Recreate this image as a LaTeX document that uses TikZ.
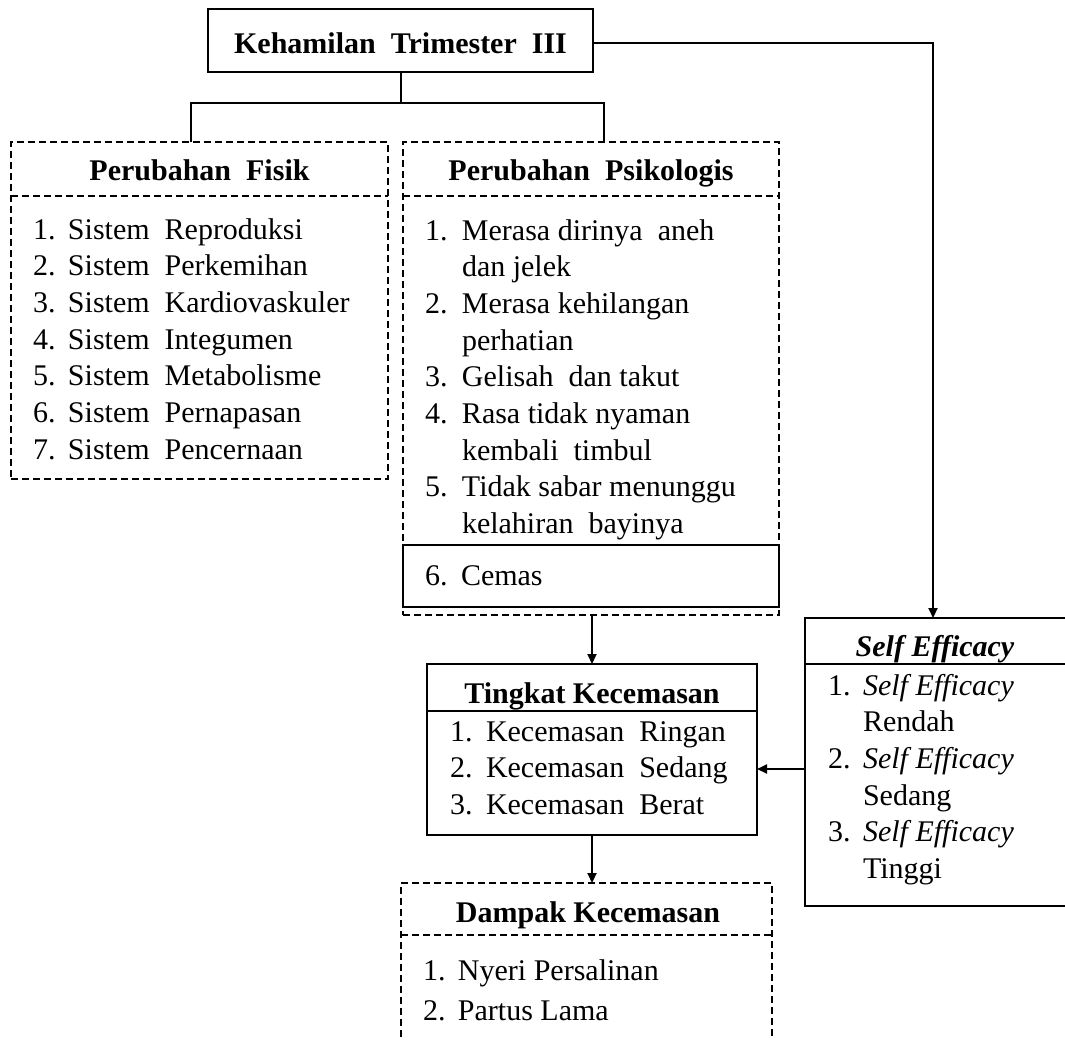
\documentclass[tikz,border=0pt]{standalone}
\usepackage{fontspec}
\setmainfont{Liberation Serif}
\usetikzlibrary{arrows.meta}
\newcommand\numb[2][35pt]{\makebox[#1][l]{#2}}
\begin{document}
\begin{tikzpicture}[x=1pt,y=-1pt,
  every node/.style={inner sep=0pt, outer sep=0pt},
  solidbox/.style={draw, line width=2.1pt, rectangle},
  dashbox/.style={draw, line width=2pt, dash pattern=on 7pt off 4pt, rectangle},
  dashsep/.style={line width=1.6pt, dash pattern=on 7pt off 4pt},
  solidsep/.style={line width=2pt},
  ttl/.style={font=\fontsize{30}{36}\selectfont\bfseries, anchor=base},
  itm/.style={font=\fontsize{30}{36}\selectfont, anchor=base west},
  conn/.style={line width=2pt},
  arr/.style={conn, -{Triangle[length=10pt,width=9pt]}}
]
\useasboundingbox (0,0) rectangle (1065,1039);

% boxes
\node[solidbox, minimum width=385pt, minimum height=63pt] (top) at (400.5,40.5) {};
\node[dashbox, minimum width=377pt, minimum height=337pt] (fisik) at (199.5,310.5) {};
\node[dashbox, minimum width=376pt, minimum height=473pt] (psiko) at (591,378.5) {};
\node[solidbox, minimum width=376pt, minimum height=62pt] (cemas) at (591,576) {};
\node[solidbox, minimum width=330pt, minimum height=171pt] (tingkat) at (592,749.5) {};
\node[solidbox, minimum width=270pt, minimum height=288pt] (self) at (940,762) {};
\node[dashbox, minimum width=371pt, minimum height=167pt] (dampak) at (586.5,966.5) {};

% separators
\draw[dashsep] (fisik.west |- 0,196) -- (fisik.east |- 0,196);
\draw[dashsep] (psiko.west |- 0,196) -- (psiko.east |- 0,196);
\draw[solidsep] (tingkat.west |- 0,711) -- (tingkat.east |- 0,711);
\draw[solidsep] (self.west |- 0,664) -- (self.east |- 0,664);
\draw[dashsep] (dampak.west |- 0,935) -- (dampak.east |- 0,935);

% titles
\node[ttl] (ttop) at (400.5,53) {Kehamilan~ Trimester~ III};
\node[ttl] (tfisik) at (199.5,180) {Perubahan~ Fisik};
\node[ttl] (tpsiko) at (591,180) {Perubahan~ Psikologis};
\node[ttl] (ttingkat) at (592,703) {Tingkat Kecemasan};
\node[ttl] (tself) at (935,656) {\itshape Self Efficacy};
\node[ttl] (tdampak) at (588,922) {Dampak Kecemasan};

% Perubahan Fisik items
\node[itm] (f1) at (33,239.0) {\numb{1.}Sistem~ Reproduksi};
\node[itm] (f2) at (33,275.7) {\numb{2.}Sistem~ Perkemihan};
\node[itm] (f3) at (33,312.4) {\numb{3.}Sistem~ Kardiovaskuler};
\node[itm] (f4) at (33,349.1) {\numb{4.}Sistem~ Integumen};
\node[itm] (f5) at (33,385.8) {\numb{5.}Sistem~ Metabolisme};
\node[itm] (f6) at (33,422.5) {\numb{6.}Sistem~ Pernapasan};
\node[itm] (f7) at (33,459.2) {\numb{7.}Sistem~ Pencernaan};

% Perubahan Psikologis items
\node[itm] (p1) at (425,240.0) {\numb[37pt]{1.}Merasa dirinya~ aneh};
\node[itm] (p1b) at (425,276.7) {\numb[37pt]{}dan jelek};
\node[itm] (p2) at (425,313.4) {\numb[37pt]{2.}Merasa kehilangan};
\node[itm] (p2b) at (425,350.1) {\numb[37pt]{}perhatian};
\node[itm] (p3) at (425,386.8) {\numb[37pt]{3.}Gelisah~ dan takut};
\node[itm] (p4) at (425,423.5) {\numb[37pt]{4.}Rasa tidak nyaman};
\node[itm] (p4b) at (425,460.2) {\numb[37pt]{}kembali~ timbul};
\node[itm] (p5) at (425,496.9) {\numb[37pt]{5.}Tidak sabar menunggu};
\node[itm] (p5b) at (425,533.6) {\numb[37pt]{}kelahiran~ bayinya};
\node[itm] (p6) at (425,585) {\numb[36pt]{6.}Cemas};

% Tingkat Kecemasan items
\node[itm] (k1) at (450,741.0) {\numb[36pt]{1.}Kecemasan~ Ringan};
\node[itm] (k2) at (450,777.7) {\numb[36pt]{2.}Kecemasan~ Sedang};
\node[itm] (k3) at (450,814.4) {\numb[36pt]{3.}Kecemasan~ Berat};

% Self Efficacy items
\node[itm] (s1) at (828,695.0) {\numb{1.}\textit{Self Efficacy}};
\node[itm] (s1b) at (828,731.7) {\numb{}Rendah};
\node[itm] (s2) at (828,768.4) {\numb{2.}\textit{Self Efficacy}};
\node[itm] (s2b) at (828,805.1) {\numb{}Sedang};
\node[itm] (s3) at (828,841.8) {\numb{3.}\textit{Self Efficacy}};
\node[itm] (s3b) at (828,878.5) {\numb{}Tinggi};

% Dampak Kecemasan items
\node[itm] (d1) at (423,980) {\numb{1.}Nyeri Persalinan};
\node[itm] (d2) at (423,1020) {\numb{2.}Partus Lama};

% connectors
\coordinate (bl) at (191,103);
\coordinate (brr) at (604,103);
\coordinate (rt) at (933,43);
\coordinate (sa) at (805,769);
\draw[conn] (top.south) -- (top.south |- bl);
\draw[conn] (fisik.north -| bl) -- (bl) -- (brr) -- (psiko.north -| brr);
\draw[arr] (top.east |- rt) -- (rt) -- (self.north -| rt);
\draw[arr] (tingkat.north |- psiko.south) -- (tingkat.north);
\draw[arr] (self.west |- sa) -- (tingkat.east |- sa);
\draw[arr] (tingkat.south) -- (tingkat.south |- dampak.north);
\end{tikzpicture}
\end{document}
